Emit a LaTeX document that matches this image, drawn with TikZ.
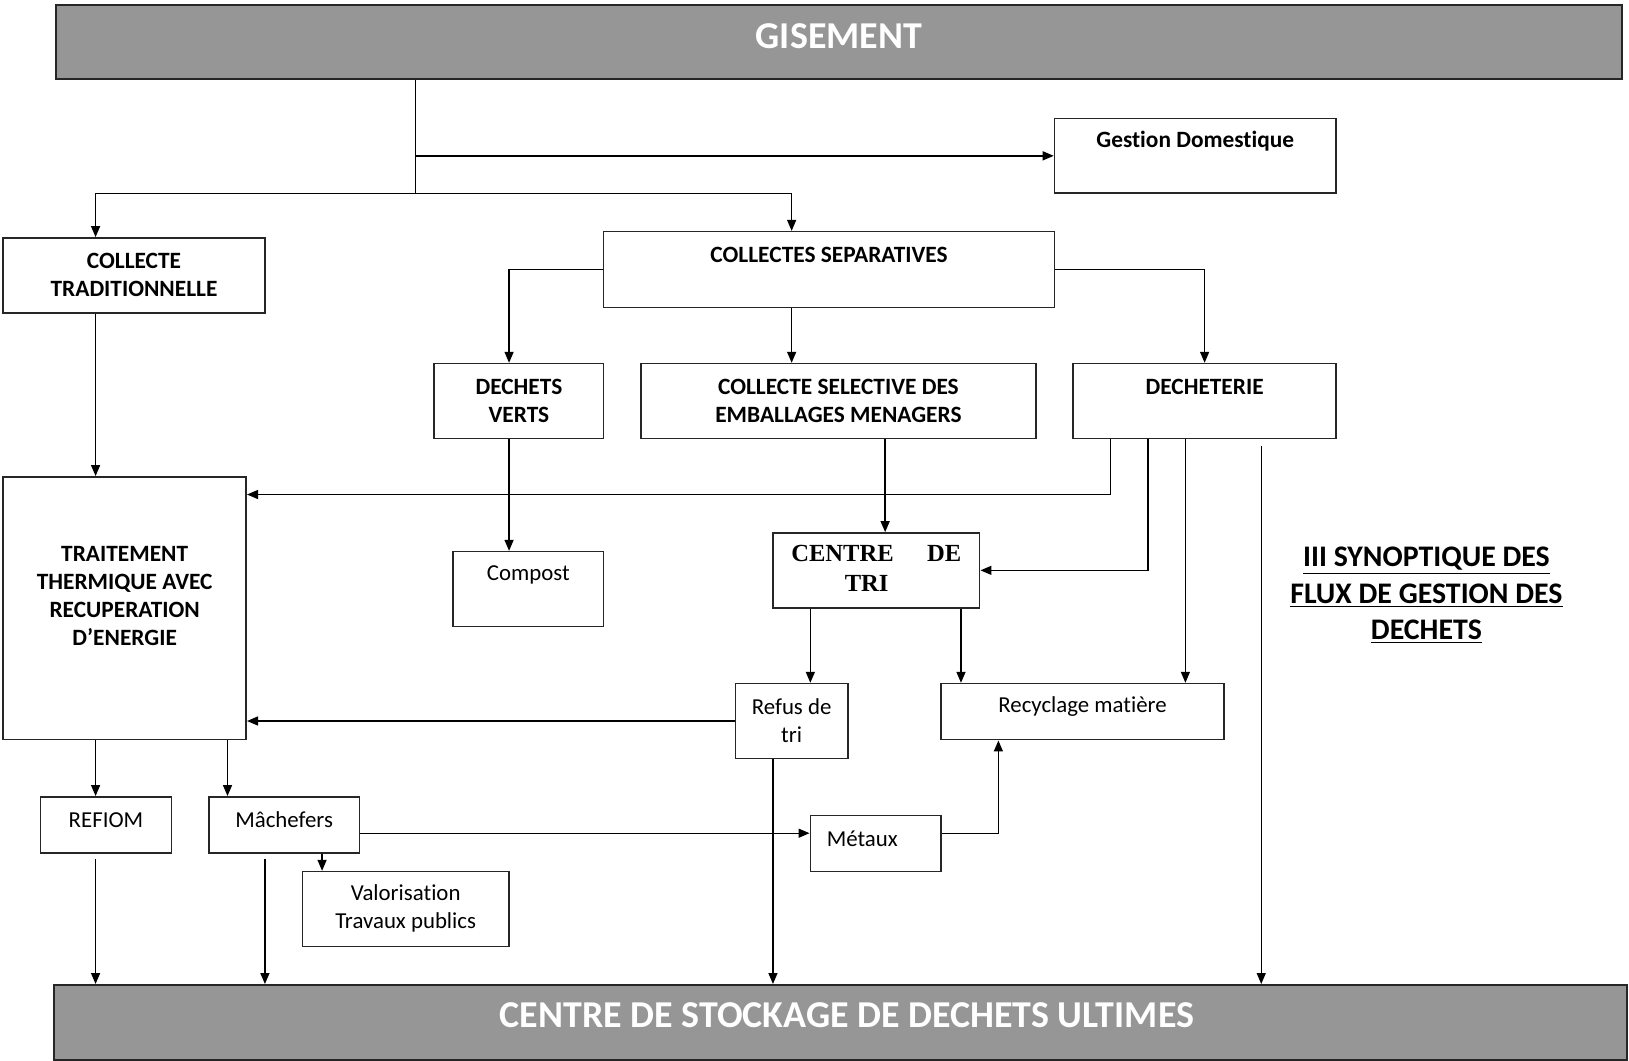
\documentclass[tikz,border=0pt]{standalone}
\usepackage{fontspec}
\setmainfont[Ligatures={TeX,NoCommon}]{Carlito}
\newfontfamily\trifont{Liberation Serif}
\usetikzlibrary{arrows.meta,fit}
\definecolor{bandgray}{HTML}{969696}
\definecolor{edgegray}{HTML}{262626}

\begin{document}
\begin{tikzpicture}[x=0.020778cm, y=-0.020778cm,
        box/.style={draw=edgegray, line width=0.9pt, inner sep=0pt},
        band/.style={draw=edgegray, line width=1pt, fill=bandgray, inner sep=0pt},
        lbl/.style={anchor=center, align=center, inner sep=0pt, font=\fontsize{13}{16}\selectfont},
        lblb/.style={lbl, font=\fontsize{13.3}{16}\selectfont\bfseries},
        toplbl/.style={lbl, yshift=-0.48cm},
        toplblb/.style={lblb, yshift=-0.48cm},
        twolbl/.style={lbl, yshift=-0.76cm},
        twolblb/.style={lblb, yshift=-0.76cm},
        bandlbl/.style={anchor=center, inner sep=0pt, text=white, font=\fontsize{21.6}{25}\selectfont\bfseries},
        wire/.style={line width=0.8pt},
        flow/.style={wire, -{Triangle[length=2.2mm, width=1.8mm]}}]

        \useasboundingbox (0,0) rectangle (1568,1021);

        % Bands
        \node[band, fit={(54,5) (1561,76)}, label={[bandlbl, yshift=-0.64cm]north:GISEMENT}] (gisement) {};
        \node[band, fit={(52,948) (1566,1020)}, label={[bandlbl, xshift=0.13cm, yshift=-0.62cm]north:CENTRE DE STOCKAGE DE DECHETS ULTIMES}] (stockage) {};

        % Collectes
        \node[box, fit={(1015,114) (1286,186)}, label={[toplblb]north:Gestion Domestique}] (gestion) {};
        \node[box, fit={(3,229) (255,301)}, label={[twolblb]north:COLLECTE\\TRADITIONNELLE}] (colltrad) {};
        \node[box, fit={(581,223) (1015,296)}, label={[toplblb]north:COLLECTES SEPARATIVES}] (collsep) {};
        \node[box, fit={(418,350) (581,422)}, label={[twolblb]north:DECHETS\\VERTS}] (dverts) {};
        \node[box, fit={(617,350) (997,422)}, label={[twolblb]north:COLLECTE SELECTIVE DES\\EMBALLAGES MENAGERS}] (collsel) {};
        \node[box, fit={(1033,350) (1286,422)}, label={[toplblb]north:DECHETERIE}] (decheterie) {};

        % Traitements
        \node[box, fit={(3,459) (237,712)}, label={[lblb, yshift=-2.40cm]north:TRAITEMENT\\THERMIQUE AVEC\\RECUPERATION\\D’ENERGIE}] (traitement) {};
        \node[box, fit={(436,531) (581,603)}, label={[toplbl]north:Compost}] (compost) {};
        \node[box, fit={(744,513) (943,585)}, label={[twolbl, yshift=0.03cm, font=\trifont\fontsize{14}{17}\selectfont\bfseries]north:CENTRE\hspace{19pt}DE\\TRI\hspace*{11pt}}] (tri) {};
        \node[box, fit={(708,658) (816,730)}, label={[twolbl]north:Refus de\\tri}] (refus) {};
        \node[box, fit={(906,658) (1178,712)}, label={[toplbl]north:Recyclage matière}] (recyclage) {};

        % Residus
        \node[box, fit={(39,767) (165,821)}, label={[toplbl]north:REFIOM}] (refiom) {};
        \node[box, fit={(201,767) (346,821)}, label={[toplbl]north:Mâchefers}] (machefers) {};
        \node[box, fit={(291,839) (490,911)}, label={[twolbl]north:Valorisation\\Travaux publics}] (valorisation) {};
        \node[box, fit={(780,785) (906,839)}, label={[toplbl, xshift=-0.27cm]north:Métaux}] (metaux) {};

        % Title
        \node[align=center, font=\fontsize{17}{20.7}\selectfont\bfseries] (titre) at (1373,573)
            {\underline{III SYNOPTIQUE DES}\\\underline{FLUX DE GESTION DES}\\\underline{DECHETS}};

        % Columns and rows of the flows
        \coordinate (split) at (400,186);
        \coordinate (xtrad) at (92,0);
        \coordinate (xsep) at (762,0);
        \coordinate (xvert) at (490,0);
        \coordinate (xsel) at (852,0);
        \coordinate (xinc) at (1069,0);
        \coordinate (xtri) at (1105,0);
        \coordinate (xrec) at (1141,0);
        \coordinate (xrefus) at (780,0);
        \coordinate (xtrirec) at (925,0);
        \coordinate (xrefbas) at (744,0);
        \coordinate (xmach) at (219,0);
        \coordinate (xval) at (310,0);
        \coordinate (xmet) at (961,0);
        \coordinate (yinc) at (0,476);
        \coordinate (ymet) at (0,802);
        \coordinate (dechgap) at (1214,429);
        \coordinate (refiomgap) at (92,827);
        \coordinate (machgap) at (255,827);

        % Gisement arrows
        \draw[wire] (gisement.south -| split) -- (split);
        \draw[flow] (gisement.south -| split) |- (gestion.west);
        \draw[flow] (split) -| (colltrad.north -| xtrad);
        \draw[flow] (split) -| (collsep.north -| xsep);

        % Collectes separatives
        \draw[flow] (collsep.west) -| (dverts.north -| xvert);
        \draw[flow] (collsep.south -| xsep) -- (collsel.north -| xsep);
        \draw[flow] (collsep.east) -| (decheterie.north);

        % Down to treatment
        \draw[flow] (colltrad.south -| xtrad) -- (traitement.north -| xtrad);
        \draw[flow] (dverts.south -| xvert) -- (compost.north -| xvert);
        \draw[flow] (collsel.south -| xsel) -- (tri.north -| xsel);

        % Decheterie arrows
        \draw[flow] (decheterie.south -| xinc) |- (traitement.east |- yinc);
        \draw[flow] (decheterie.south -| xtri) |- (tri.east);
        \draw[flow] (decheterie.south -| xrec) -- (recyclage.north -| xrec);
        \draw[flow] (dechgap) -- (stockage.north -| dechgap);

        % Centre de tri arrows
        \draw[flow] (tri.south -| xrefus) -- (refus.north -| xrefus);
        \draw[flow] (tri.south -| xtrirec) -- (recyclage.north -| xtrirec);
        \draw[flow] (refus.west) -- (traitement.east |- refus.west);
        \draw[flow] (refus.south -| xrefbas) -- (stockage.north -| xrefbas);

        % Residus arrows
        \draw[flow] (traitement.south -| xtrad) -- (refiom.north -| xtrad);
        \draw[flow] (traitement.south -| xmach) -- (machefers.north -| xmach);
        \draw[flow] (machefers.east |- ymet) -- (metaux.west |- ymet);
        \draw[flow] (machefers.south -| xval) -- (valorisation.north -| xval);
        \draw[flow] (metaux.east |- ymet) -| (recyclage.south -| xmet);
        \draw[flow] (refiomgap) -- (stockage.north -| refiomgap);
        \draw[flow] (machgap) -- (stockage.north -| machgap);
\end{tikzpicture}
\end{document}
